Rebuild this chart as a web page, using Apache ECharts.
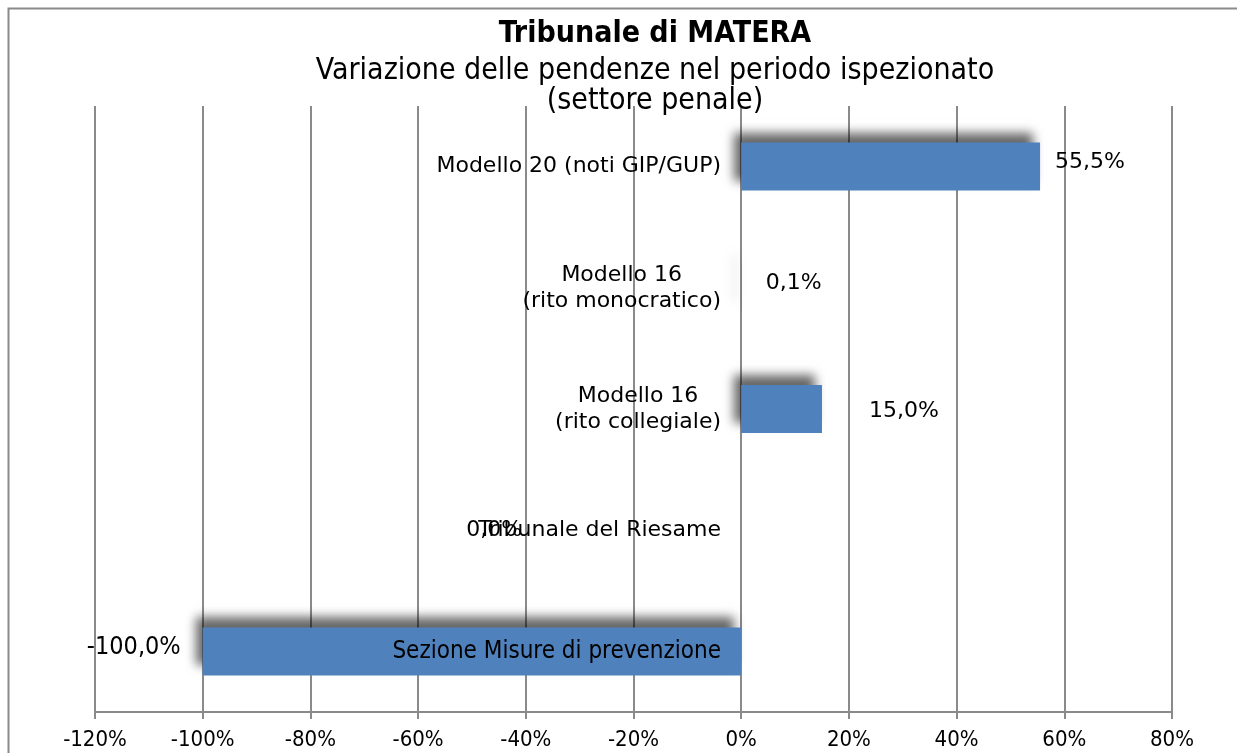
<!DOCTYPE html>
<html>
<head>
<meta charset="utf-8">
<title>Tribunale di MATERA</title>
<script src="https://cdn.jsdelivr.net/npm/echarts@6/dist/echarts.min.js"></script>
<style>
    html, body { margin: 0; padding: 0; background: #ffffff; }
    #chart { width: 1237px; height: 753px; }
</style>
</head>
<body>
<div id="chart"></div>
<script>
// categorie dall'alto verso il basso
const categories = [
    'Modello 20 (noti GIP/GUP)',
    'Modello 16\n(rito monocratico)',
    'Modello 16\n(rito collegiale)',
    'Tribunale del Riesame',
    'Sezione Misure di prevenzione'
];
// variazione percentuale delle pendenze
const variations = [55.5, 0.1, 15.0, 0.0, -100.0];
// etichette asse x
const tickLabels = ['-120%', '-100%', '-80%', '-60%', '-40%', '-20%', '0%', '20%', '40%', '60%', '80%'];

const chart = echarts.init(document.getElementById('chart'));

const fontMain = 'DejaVu Sans, Verdana, sans-serif';
const fontNarrow = 'DejaVu Sans Condensed, DejaVu Sans, sans-serif';
const gridGrey = '#8a8a8a';

// posizione delle etichette dei valori come nel grafico originale
const labelPlacement = [
    { position: 'right', distance: 15, dy: -4 },
    { position: 'right', distance: 24, dy: -5 },
    { position: 'right', distance: 47, dy: 2 },
    { position: 'left', distance: 219, dy: 0 },
    { position: 'left', distance: 22, dy: -4 }
];

const fmt = v => v.toFixed(1).replace('.', ',') + '%';

const barData = variations.map((v, i) => ({
    value: v,
    label: {
        position: labelPlacement[i].position,
        distance: labelPlacement[i].distance,
        offset: [0, labelPlacement[i].dy],
        fontFamily: i === 4 ? fontNarrow : fontMain,
        fontSize: i === 4 ? 25 : 22
    }
}));

const option = {
    animation: false,
    backgroundColor: '#ffffff',
    graphic: [{
        type: 'rect',
        left: 6,
        top: 6,
        shape: { width: 1260, height: 780 },
        style: { fill: 'none', stroke: '#8a8a8a', lineWidth: 2 },
        silent: true
    }],
    title: {
        text: 'Tribunale di MATERA',
        subtext: 'Variazione delle pendenze nel periodo ispezionato\n(settore penale)',
        left: 650,
        top: 14,
        textAlign: 'center',
        itemGap: 6,
        textStyle: {
            fontFamily: fontNarrow,
            fontWeight: 'bold',
            fontSize: 30,
            lineHeight: 31,
            color: '#000'
        },
        subtextStyle: {
            fontFamily: fontNarrow,
            fontSize: 30,
            lineHeight: 30,
            color: '#000'
        }
    },
    grid: {
        left: 95,
        right: 65,
        top: 106,
        bottom: 41,
        outerBoundsMode: 'none',
        containLabel: false
    },
    xAxis: {
        type: 'value',
        min: -120,
        max: 80,
        interval: 20,
        axisLine: { show: true, onZero: false, lineStyle: { color: gridGrey, width: 2 } },
        axisTick: { show: true, length: 7, lineStyle: { color: gridGrey, width: 2 } },
        splitLine: { show: true, lineStyle: { color: gridGrey, width: 2 } },
        axisLabel: {
            formatter: (v) => tickLabels[Math.round((v + 120) / 20)],
            fontFamily: fontNarrow,
            fontSize: 22,
            color: '#000',
            margin: 17
        }
    },
    yAxis: {
        type: 'category',
        inverse: true,
        data: categories,
        offset: -646,
        axisLine: { show: false, onZero: false },
        axisTick: { show: false },
        splitLine: { show: false },
        axisLabel: {
            margin: 20,
            color: '#000',
            fontFamily: fontMain,
            fontSize: 22,
            lineHeight: 26,
            formatter: (v, i) => {
                if (i === 4) return '{n|' + v + '}';
                return v.split('\n').map(s => '{c|' + s + '}').join('\n');
            },
            rich: {
                c: { align: 'center', fontFamily: fontMain, fontSize: 22, lineHeight: 26, color: '#000' },
                n: { fontFamily: fontNarrow, fontSize: 24, color: '#000' }
            }
        },
        z: 5
    },
    series: [{
        type: 'bar',
        data: barData,
        barWidth: 48,
        itemStyle: {
            color: '#4f81bd',
            shadowColor: 'rgba(0, 0, 0, 0.6)',
            shadowBlur: 10,
            shadowOffsetX: -7,
            shadowOffsetY: -10
        },
        label: {
            show: true,
            color: '#000',
            formatter: p => fmt(p.value)
        },
        z: 3
    }]
};

chart.setOption(option);

window.addEventListener('resize', () => {
    chart.resize();
});
</script>
</body>
</html>
